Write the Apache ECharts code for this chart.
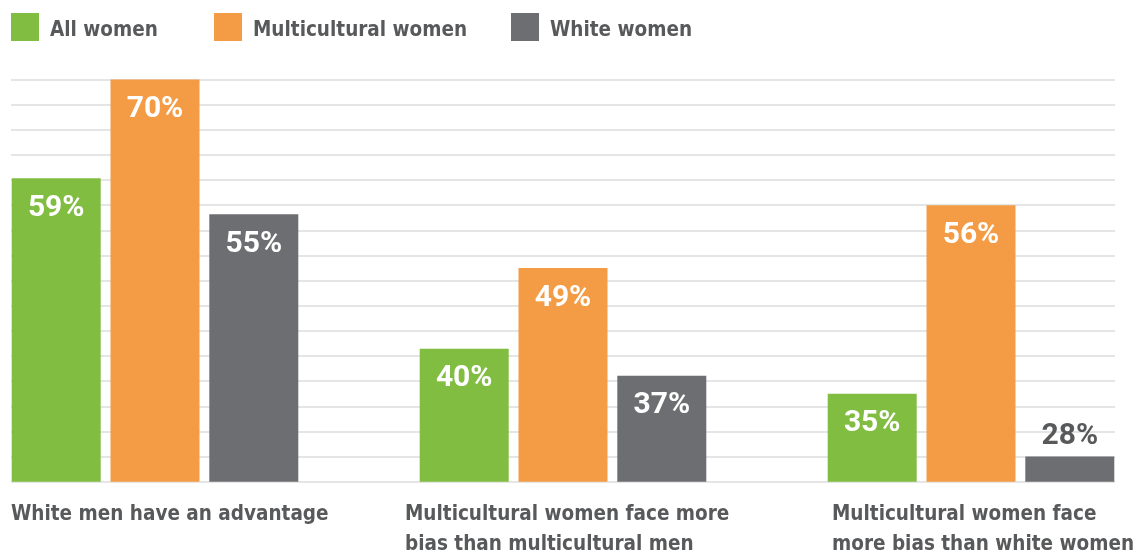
<!DOCTYPE html>
<html>
<head>
<meta charset="utf-8">
<script src="https://cdn.jsdelivr.net/npm/echarts@6/dist/echarts.min.js"></script>
<style>
html,body{margin:0;padding:0;background:#fff;}
#chart{width:1147px;height:554px;}
</style>
</head>
<body>
<div id="chart"></div>
<script>
// ---- data ----
var categories = [
  "White men have an advantage",
  "Multicultural women face more\nbias than multicultural men",
  "Multicultural women face\nmore bias than white women"
];
var seriesNames = ["All women", "Multicultural women", "White women"];
var allWomen = [59, 40, 35];
var multiculturalWomen = [70, 49, 56];
var whiteWomen = [55, 37, 28];

// ---- styling ----
var colors = ["#80bd41", "#f39c45", "#6d6e71"];
var textGray = "#58595b";
var condensed = "'DejaVu Sans Condensed', 'Liberation Sans', sans-serif";
var valueFont = "Roboto, 'Liberation Sans', sans-serif";
var valueMin = 25.2, valueMax = 70;
var labelBlockWidths = [288, 316, 278];

var chart = echarts.init(document.getElementById('chart'), null, {renderer: 'canvas'});

function makeData(values) {
  return values.map(function (v) {
    if (v - valueMin < 6) {
      return {value: v, label: {position: 'top', distance: 5, color: textGray}};
    }
    return v;
  });
}

var valuesList = [allWomen, multiculturalWomen, whiteWomen];
var series = seriesNames.map(function (name, i) {
  return {
    name: name,
    type: 'bar',
    xAxisIndex: 0,
    yAxisIndex: 0,
    barWidth: 89,
    barGap: '11%',
    itemStyle: {color: colors[i]},
    label: {
      show: true,
      position: 'insideTop',
      distance: 15,
      formatter: '{c}%',
      color: '#ffffff',
      fontFamily: valueFont,
      fontWeight: 'bold',
      fontSize: 30
    },
    data: makeData(valuesList[i])
  };
});

var legendLefts = [11, 214, 511];
var legends = seriesNames.map(function (name, i) {
  return {
    data: [name],
    left: legendLefts[i],
    top: 13,
    padding: 0,
    itemWidth: 28,
    itemHeight: 28,
    icon: 'rect',
    selectedMode: false,
    formatter: '{t|{name}}',
    textStyle: {
      color: textGray,
      fontFamily: condensed,
      fontWeight: 'bold',
      fontSize: 20.5,
      padding: [0, 0, 0, 6],
      rich: {
        t: {
          color: textGray,
          fontFamily: condensed,
          fontWeight: 'bold',
          fontSize: 20.5,
          lineHeight: 28,
          verticalAlign: 'bottom'
        }
      }
    }
  };
});

var rich = {};
labelBlockWidths.forEach(function (w, i) {
  rich['c' + i] = {
    width: w,
    align: 'left',
    color: textGray,
    fontFamily: condensed,
    fontWeight: 'bold',
    fontSize: 20.5,
    lineHeight: 30
  };
});

var option = {
  animation: false,
  backgroundColor: '#ffffff',
  color: colors,
  legend: legends,
  grid: [
    {left: -49, right: -28, top: 79.5, bottom: 72.3, containLabel: false, outerBoundsMode: 'none'},
    {left: 11, right: 32, top: 79.5, bottom: 72.3, containLabel: false, outerBoundsMode: 'none'}
  ],
  xAxis: [
    {
      type: 'category',
      gridIndex: 0,
      data: categories,
      axisLine: {show: false},
      axisTick: {show: false},
      axisLabel: {
        interval: 0,
        margin: 18,
        align: 'center',
        verticalAlign: 'top',
        hideOverlap: false,
        formatter: function (v, idx) {
          return v.split('\n').map(function (line) {
            return '{c' + idx + '|' + line + '}';
          }).join('\n');
        },
        rich: rich
      }
    },
    {
      type: 'value',
      gridIndex: 1,
      show: false,
      min: 0,
      max: 1
    }
  ],
  yAxis: [
    {
      type: 'value',
      gridIndex: 0,
      min: valueMin,
      max: valueMax,
      show: false
    },
    {
      type: 'value',
      gridIndex: 1,
      min: 0,
      max: 16,
      interval: 1,
      axisLine: {show: false},
      axisTick: {show: false},
      axisLabel: {show: false},
      splitLine: {show: true, lineStyle: {color: '#dcdcdc', width: 1.5}}
    }
  ],
  series: series
};

chart.setOption(option);
</script>
</body>
</html>
